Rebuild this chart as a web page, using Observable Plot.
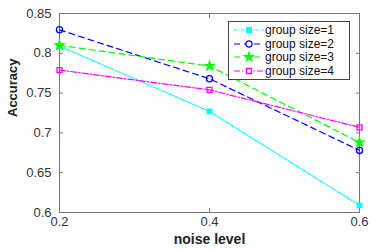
<!DOCTYPE html>
<html>
<head>
<meta charset="utf-8">
<script src="https://cdn.jsdelivr.net/npm/d3@7"></script>
<script src="https://cdn.jsdelivr.net/npm/@observablehq/plot@0.6"></script>
<style>
  html, body { margin: 0; padding: 0; background: #fff; }
  #chart { position: relative; width: 374px; height: 249px; font-family: "Liberation Sans", Arial, sans-serif; }
  #legend { position: absolute; left: 228px; top: 21px; width: 120px; height: 57px; border: 1px solid #444; background: #fff; box-sizing: content-box; }
  .row { position: absolute; left: 0; height: 14px; display: flex; align-items: center; }
  .row span { font-size: 12px; color: #111; margin-left: 1px; }
</style>
</head>
<body>
<div id="chart"><div id="legend"></div></div>
<script>
const noiseLevels = [0.2, 0.4, 0.6];
const groupSize1 = [0.809, 0.727, 0.609];
const groupSize2 = [0.8295, 0.768, 0.678];
const groupSize3 = [0.810, 0.784, 0.688];
const groupSize4 = [0.779, 0.754, 0.707];
const seriesNames = ["group size=1", "group size=2", "group size=3", "group size=4"];
const xTicks = [0.2, 0.4, 0.6];
const yTicks = [0.6, 0.65, 0.7, 0.75, 0.8, 0.85];

const seriesValues = [groupSize1, groupSize2, groupSize3, groupSize4];
const styles = [
  {color: "#00ffff", dash: "3,1.5,1,1.5", symbol: "square", fill: true, r: 2.6},
  {color: "#0000ff", dash: "6,4", symbol: "circle", fill: false, r: 3.1},
  {color: "#00ff00", dash: "6,4", symbol: "star", fill: true, r: 2.7},
  {color: "#ff00ff", dash: "6,2,1.5,2", symbol: "square", fill: false, r: 2.8}
];
const fmt = d => String(+d.toFixed(2));

const marks = [
  Plot.frame({stroke: "#777"}),
  Plot.axisX(xTicks, {tickSize: -4, tickPadding: 8, stroke: "#777", tickFormat: fmt, fontSize: 13, color: "#333", label: null}),
  Plot.axisX(xTicks, {anchor: "top", tickSize: -4, stroke: "#777", tickFormat: () => "", label: null}),
  Plot.axisY(yTicks, {tickSize: -4, tickPadding: 12, stroke: "#777", tickFormat: fmt, fontSize: 13, color: "#333", label: null}),
  Plot.axisY(yTicks, {anchor: "right", tickSize: -4, stroke: "#777", tickFormat: () => "", label: null}),
  Plot.text(["noise level"], {frameAnchor: "bottom", dy: 27, lineAnchor: "middle", fontWeight: "bold", fontSize: 14, fill: "#222"}),
  Plot.text(["Accuracy"], {frameAnchor: "left", dx: -47, dy: 4, rotate: -90, lineAnchor: "middle", fontWeight: "bold", fontSize: 13, fill: "#222"})
];
seriesValues.forEach((vals, i) => {
  const s = styles[i];
  const data = noiseLevels.map((x, j) => ({x, y: vals[j]}));
  marks.push(Plot.line(data, {x: "x", y: "y", stroke: s.color, strokeWidth: 1.2, strokeDasharray: s.dash}));
  marks.push(Plot.dot(data, {x: "x", y: "y", symbol: s.symbol, r: s.r, stroke: s.color, strokeWidth: 1.3, fill: s.fill ? s.color : "none"}));
});

const chart = Plot.plot({
  width: 374, height: 249,
  marginLeft: 59, marginRight: 15, marginTop: 13, marginBottom: 37,
  style: {fontFamily: "'Liberation Sans', Arial, sans-serif", background: "white"},
  x: {domain: [0.2, 0.6]},
  y: {domain: [0.6, 0.85]},
  marks
});
document.getElementById("chart").prepend(chart);

// legend
const legend = d3.select("#legend");
const symMap = {square: d3.symbolSquare, circle: d3.symbolCircle, star: d3.symbolStar};
seriesNames.forEach((name, i) => {
  const s = styles[i];
  const row = legend.append("div").attr("class", "row").style("top", (1 + i * 13.7) + "px").style("left", "4px");
  const svg = row.append("svg").attr("width", 31).attr("height", 14);
  svg.append("line").attr("x1", 1).attr("x2", 31).attr("y1", 7).attr("y2", 7)
    .attr("stroke", s.color).attr("stroke-width", 1.2).attr("stroke-dasharray", s.dash);
  svg.append("path").attr("transform", "translate(16,7)")
    .attr("d", d3.symbol(symMap[s.symbol], Math.PI * s.r * s.r)())
    .attr("stroke", s.color).attr("stroke-width", 1.3).attr("fill", s.fill ? s.color : "white");
  row.append("span").text(name);
});
</script>
</body>
</html>
